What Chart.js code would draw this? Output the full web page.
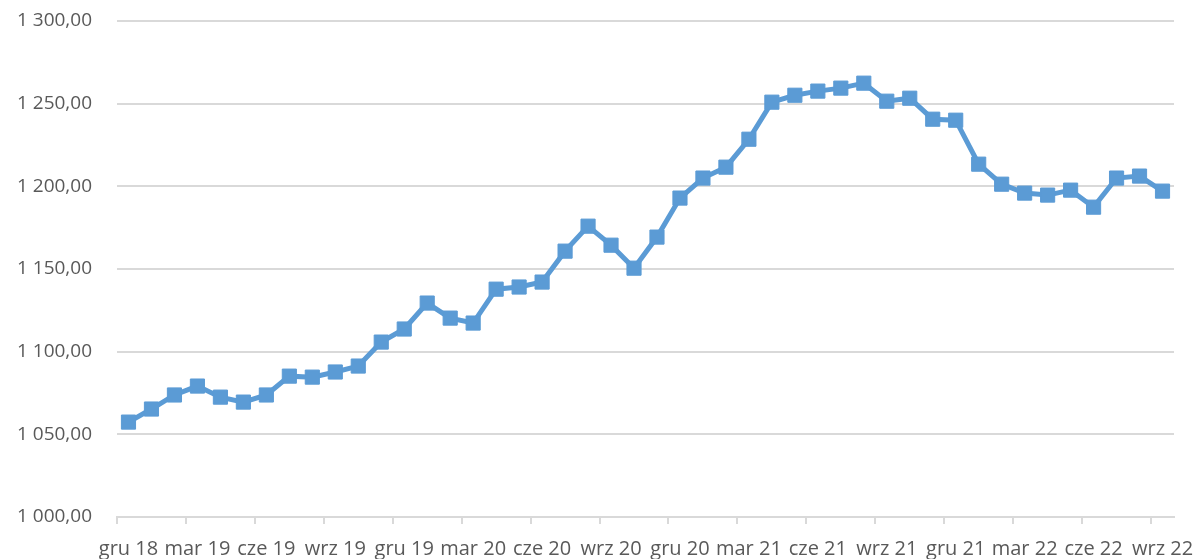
<!DOCTYPE html>
<html>
<head>
<meta charset="utf-8">
<script src="https://cdn.jsdelivr.net/npm/chart.js@4/dist/chart.umd.min.js"></script>
<style>
  body { margin: 0; background: #fff; }
  #wrap { width: 1196px; height: 559px; }
</style>
</head>
<body>
<div id="wrap"><canvas id="chart" width="1196" height="559"></canvas></div>
<script>
// months, Dec 2018 - Sep 2022
var months = [
  'gru 18',
  'sty 19', 'lut 19', 'mar 19', 'kwi 19', 'maj 19', 'cze 19', 'lip 19', 'sie 19', 'wrz 19', 'paź 19', 'lis 19', 'gru 19',
  'sty 20', 'lut 20', 'mar 20', 'kwi 20', 'maj 20', 'cze 20', 'lip 20', 'sie 20', 'wrz 20', 'paź 20', 'lis 20', 'gru 20',
  'sty 21', 'lut 21', 'mar 21', 'kwi 21', 'maj 21', 'cze 21', 'lip 21', 'sie 21', 'wrz 21', 'paź 21', 'lis 21', 'gru 21',
  'sty 22', 'lut 22', 'mar 22', 'kwi 22', 'maj 22', 'cze 22', 'lip 22', 'sie 22', 'wrz 22'
];

var values = [
  1057.4,
  1065.3, 1073.8, 1079.2, 1072.5, 1069.5, 1073.8, 1085.2, 1084.6, 1087.7, 1091.3, 1105.8, 1113.7,
  1129.4, 1120.3, 1117.3, 1137.8, 1139.1, 1142.1, 1160.8, 1175.9, 1164.4, 1150.5, 1169.3, 1192.9,
  1205.0, 1211.6, 1228.5, 1250.9, 1255.1, 1257.6, 1259.4, 1262.4, 1251.5, 1253.3, 1240.6, 1240.0,
  1213.4, 1201.3, 1195.9, 1194.7, 1197.7, 1187.4, 1205.0, 1206.2, 1197.1
];

var yMin = 1000;
var yMax = 1300;
var yStep = 50;

var textColor = '#595959';
var gridColor = '#d9d9d9';
var lineColor = '#5B9BD5';

// "1 300,00" style
function formatValue(v) {
  var parts = v.toFixed(2).split('.');
  var intPart = parts[0].replace(/\B(?=(\d{3})+(?!\d))/g, ' ');
  return intPart + ',' + parts[1];
}

var ctx = document.getElementById('chart').getContext('2d');
var chart = new Chart(ctx, {
  type: 'line',
  data: {
    labels: months,
    datasets: [{
      data: values,
      borderColor: lineColor,
      backgroundColor: lineColor,
      borderWidth: 5,
      tension: 0,
      pointStyle: 'rect',
      pointRadius: 10,
      pointBorderWidth: 1,
      pointBackgroundColor: lineColor,
      pointBorderColor: lineColor
    }]
  },
  options: {
    responsive: false,
    animation: false,
    layout: {
      padding: { top: 21, right: 22, left: 0, bottom: 0 }
    },
    plugins: {
      legend: { display: false },
      tooltip: { enabled: false }
    },
    scales: {
      x: {
        offset: true,
        grid: {
          display: true,
          offset: true,
          drawOnChartArea: false,
          drawTicks: true,
          tickLength: 7,
          lineWidth: 2,
          // tick mark every third month only
          color: function(c) {
            return c.index % 3 === 0 ? gridColor : 'rgba(0,0,0,0)';
          }
        },
        border: { display: true, color: gridColor, width: 2 },
        ticks: {
          autoSkip: false,
          maxRotation: 0,
          minRotation: 0,
          padding: 13,
          color: textColor,
          font: { family: 'Open Sans', size: 20 },
          callback: function(value, index) {
            return index % 3 === 0 ? months[index] : '';
          }
        },
        afterFit: function(scale) {
          scale.height = 42;
          scale.paddingLeft = 0;
          scale.paddingRight = 0;
        }
      },
      y: {
        min: yMin,
        max: yMax,
        grid: {
          color: gridColor,
          lineWidth: 2,
          drawTicks: false
        },
        border: { display: false },
        ticks: {
          stepSize: yStep,
          padding: 25,
          color: textColor,
          font: { family: 'Open Sans', size: 19 },
          callback: function(value) {
            return formatValue(value);
          }
        },
        afterFit: function(scale) {
          scale.width = 117;
          scale.paddingTop = 0;
          scale.paddingBottom = 0;
        }
      }
    }
  }
});
</script>
</body>
</html>
